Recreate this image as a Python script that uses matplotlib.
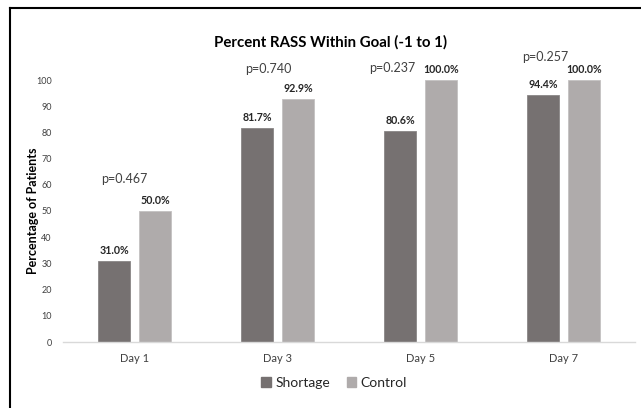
import matplotlib
matplotlib.use("Agg")
import matplotlib.pyplot as plt
import numpy as np
from matplotlib.lines import Line2D
from matplotlib.patches import Patch

plt.rcParams['font.family'] = ['Lato', 'DejaVu Sans']

days = ["Day 1", "Day 3", "Day 5", "Day 7"]
shortage = [31.0, 81.7, 80.6, 94.4]
control = [50.0, 92.9, 100.0, 100.0]
p_values = ["p=0.467", "p=0.740", "p=0.237", "p=0.257"]

DARK = "#767171"
LIGHT = "#AFABAB"

fig = plt.figure(figsize=(6.41, 4.08), dpi=100)
ax = fig.add_axes([63 / 641, 66 / 408, 572 / 641, 262 / 408])

x = np.arange(len(days))
w = 0.224
off = w / 2 + 0.0315
b1 = ax.bar(x - off, shortage, w, color=DARK, edgecolor="#8a8686", linewidth=0.6, label="Shortage")
b2 = ax.bar(x + off, control, w, color=LIGHT, edgecolor="#c4c1c1", linewidth=0.6, label="Control")

for bars, vals in ((b1, shortage), (b2, control)):
    for rect, v in zip(bars, vals):
        ax.annotate(f"{v:.1f}%", (rect.get_x() + rect.get_width() / 2, v),
                    xytext=(0, 3.5), textcoords="offset points", ha="center", va="bottom",
                    fontsize=7.7, fontweight="bold", color="#262626")

# p-value labels sit loosely above each group
p_pos = [(-0.073, 62.2), (0.934, 104.2), (1.80, 104.6), (2.87, 108.8)]
for txt, (px, py) in zip(p_values, p_pos):
    ax.text(px, py, txt, ha="center", va="center", fontsize=9, color="#404040", clip_on=False)

ax.set_xlim(-0.5, 3.5)
ax.set_ylim(0, 100)
ax.set_yticks(range(0, 101, 10))
ax.set_xticks(x)
ax.set_xticklabels(days)
ax.tick_params(axis="y", length=0, labelsize=6.5, labelcolor="#404040", pad=8)
ax.tick_params(axis="x", length=0, labelsize=8, labelcolor="#404040", pad=8)
for s in ["top", "right", "left"]:
    ax.spines[s].set_visible(False)
ax.spines["bottom"].set_color("#d9d9d9")
ax.spines["bottom"].set_linewidth(1)

ax.set_ylabel("Percentage of Patients", fontsize=9, fontweight="bold", color="#000000")
ax.yaxis.set_label_coords(-24 / 572, 0.5)
fig.text(330 / 641, 1 - 42 / 408, "Percent RASS Within Goal (-1 to 1)", ha="center", va="center",
         fontsize=10.8, fontweight="bold", color="#000000")

handles = [Patch(color=DARK, label="Shortage"), Patch(color=LIGHT, label="Control")]
fig.legend(handles=handles, loc="center", bbox_to_anchor=(334 / 641, 1 - 383 / 408), ncol=2,
           frameon=False, fontsize=10, handlelength=0.7, handleheight=0.7, handletextpad=0.3,
           columnspacing=1.2, labelcolor="#262626")

# frame edges visible in the cropped screenshot
fig.add_artist(Line2D([9.5 / 641, 9.5 / 641], [0, 1 - 8 / 408], color="black", lw=1.5))
fig.add_artist(Line2D([9.5 / 641, 1], [1 - 8 / 408, 1 - 8 / 408], color="black", lw=1.5))

fig.savefig("out.png", dpi=100)
